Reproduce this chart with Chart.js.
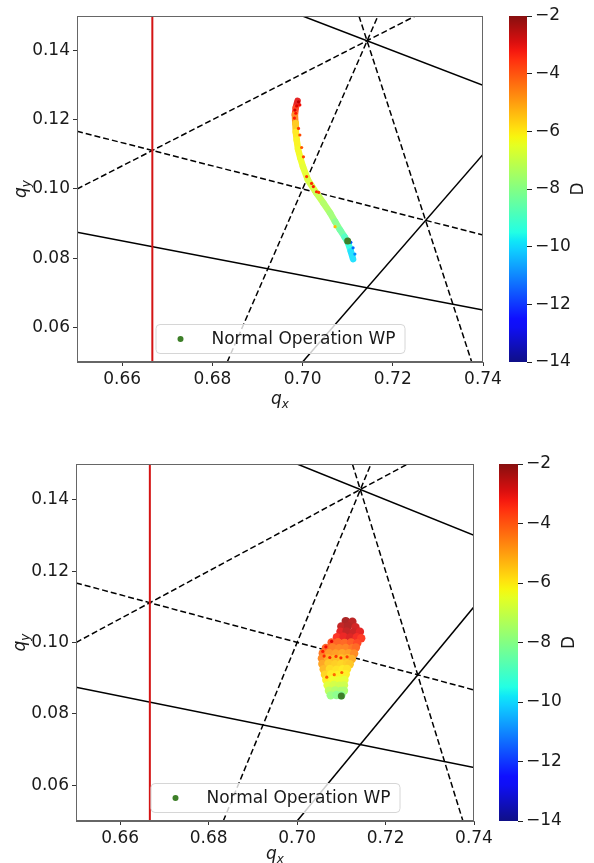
<!DOCTYPE html>
<html>
<head>
<meta charset="utf-8">
<script src="https://cdn.jsdelivr.net/npm/chart.js@4.4.0/dist/chart.umd.min.js"></script>
<style>
  html, body { margin: 0; padding: 0; background: #fff; }
  body { width: 594px; height: 863px; position: relative; overflow: hidden; }
  .box { position: absolute; left: 0; width: 594px; }
</style>
</head>
<body>
<div class="box" style="top:0;height:430px"><canvas id="topPlot"></canvas></div>
<div class="box" style="top:0;height:430px"><canvas id="topBar"></canvas></div>
<div class="box" style="top:440px;height:423px"><canvas id="botPlot"></canvas></div>
<div class="box" style="top:440px;height:423px"><canvas id="botBar"></canvas></div>
<script>
// axis ranges and tick labels
const xRange = [0.65, 0.74];
const yRange = [0.05, 0.15];
const dRange = [-14, -2];
const xTicks = [0.66, 0.68, 0.70, 0.72, 0.74];
const yTicks = [0.06, 0.08, 0.10, 0.12, 0.14];
const dTicks = [-14, -12, -10, -8, -6, -4, -2];

// resonance lines, endpoints [qx, qy]
const dashedLines = [
  [[0.65, 0.1167], [0.74, 0.0867]],
  [[0.65, 0.1000], [0.725, 0.15]],
  [[0.6833, 0.05], [0.7167, 0.15]],
  [[0.7125, 0.15], [0.7375, 0.05]]
];
const solidLines = [
  [[0.70, 0.15], [0.74, 0.13]],
  [[0.65, 0.0875], [0.74, 0.065]],
  [[0.70, 0.05], [0.74, 0.11]]
];
const limitLine = [[0.6667, 0.05], [0.6667, 0.15]];

const workingPoint = [0.710, 0.085];
const legendLabel = 'Normal Operation WP';

// top panel: tune footprint track [qx, qy, D]
const topTrack = [
  [0.6989, 0.1255, -2.8], [0.6985, 0.1235, -3.2], [0.6983, 0.1215, -4.0],
  [0.6984, 0.1190, -5.2], [0.6985, 0.1165, -5.9], [0.6987, 0.1142, -6.1],
  [0.6990, 0.1115, -6.2], [0.6995, 0.1090, -6.3], [0.7001, 0.1064, -6.4],
  [0.7012, 0.1026, -6.6], [0.7031, 0.0988, -6.9], [0.7046, 0.0960, -7.2],
  [0.7061, 0.0931, -7.5], [0.7072, 0.0906, -7.8], [0.7083, 0.0882, -8.2],
  [0.7093, 0.0862, -8.7], [0.7101, 0.0844, -9.2], [0.7107, 0.0820, -9.7],
  [0.7112, 0.0797, -10.1]
];
const topSpecks = [
  [0.6991, 0.1252, -2.6], [0.6987, 0.1240, -3.0], [0.6994, 0.1243, -3.2],
  [0.6983, 0.1228, -2.9], [0.6985, 0.1219, -3.3], [0.6982, 0.1205, -3.4],
  [0.6991, 0.1175, -3.8], [0.6994, 0.1156, -4.0], [0.6998, 0.1120, -4.2],
  [0.7002, 0.1093, -4.0], [0.7009, 0.1036, -3.8], [0.7020, 0.1016, -3.6],
  [0.7024, 0.1007, -3.4], [0.7031, 0.0992, -3.5], [0.7036, 0.0990, -3.8],
  [0.7072, 0.0891, -5.5], [0.7107, 0.0846, -11.5], [0.7112, 0.0830, -11.2],
  [0.7116, 0.0812, -10.8]
];

// bottom panel: tune footprint cloud [qx, qy, D]
const bottomCloud = [
  [0.7110, 0.1060, -2.3], [0.7125, 0.1058, -2.5],
  [0.7100, 0.1045, -2.6], [0.7115, 0.1046, -2.4], [0.7132, 0.1043, -2.8],
  [0.7098, 0.1030, -3.0], [0.7112, 0.1031, -2.6], [0.7127, 0.1029, -2.7], [0.7142, 0.1030, -3.0],
  [0.7090, 0.1015, -3.3], [0.7105, 0.1016, -3.1], [0.7120, 0.1014, -2.9], [0.7135, 0.1015, -3.2], [0.7145, 0.1012, -3.4],
  [0.7078, 0.1000, -3.8], [0.7092, 0.1001, -4.0], [0.7107, 0.0999, -4.1], [0.7122, 0.1000, -3.9], [0.7136, 0.0998, -3.6],
  [0.7065, 0.0985, -4.0], [0.7080, 0.0986, -4.4], [0.7095, 0.0984, -4.5], [0.7110, 0.0985, -4.5], [0.7125, 0.0984, -4.3], [0.7133, 0.0986, -4.1],
  [0.7058, 0.0970, -4.3], [0.7072, 0.0971, -4.8], [0.7087, 0.0969, -4.9], [0.7102, 0.0970, -5.0], [0.7117, 0.0970, -4.9], [0.7129, 0.0969, -4.6],
  [0.7056, 0.0955, -4.6], [0.7070, 0.0956, -5.1], [0.7085, 0.0954, -5.3], [0.7100, 0.0955, -5.4], [0.7114, 0.0956, -5.3], [0.7124, 0.0954, -5.1],
  [0.7057, 0.0940, -5.0], [0.7071, 0.0941, -5.5], [0.7086, 0.0939, -5.6], [0.7100, 0.0940, -5.7], [0.7113, 0.0941, -5.6], [0.7119, 0.0939, -5.5],
  [0.7060, 0.0925, -5.3], [0.7074, 0.0926, -5.8], [0.7089, 0.0924, -5.9], [0.7103, 0.0925, -6.0], [0.7113, 0.0926, -5.9],
  [0.7063, 0.0910, -5.7], [0.7077, 0.0911, -6.0], [0.7091, 0.0909, -6.1], [0.7104, 0.0910, -6.2], [0.7110, 0.0911, -6.1],
  [0.7066, 0.0895, -6.1], [0.7080, 0.0896, -6.3], [0.7094, 0.0894, -6.4], [0.7107, 0.0895, -6.5],
  [0.7069, 0.0880, -6.6], [0.7083, 0.0881, -6.8], [0.7096, 0.0879, -6.9], [0.7106, 0.0880, -6.9],
  [0.7072, 0.0865, -7.2], [0.7086, 0.0866, -7.4], [0.7099, 0.0864, -7.5], [0.7106, 0.0865, -7.5],
  [0.7076, 0.0852, -7.8], [0.7089, 0.0853, -8.0], [0.7100, 0.0852, -8.1]
];
const bottomSpecks = [
  [0.7078, 0.1003, -3.0], [0.7065, 0.0988, -3.2], [0.7058, 0.0975, -3.4],
  [0.7061, 0.0962, -3.6], [0.7074, 0.0958, -3.5], [0.7088, 0.0961, -3.8],
  [0.7099, 0.0957, -3.6], [0.7113, 0.0960, -3.9],
  [0.7067, 0.0903, -4.2], [0.7084, 0.0910, -4.4], [0.7101, 0.0916, -4.3]
];

const FONT = '"DejaVu Sans", Verdana, sans-serif';
Chart.defaults.font.family = FONT;
Chart.defaults.font.size = 17;
Chart.defaults.color = '#1a1a1a';

// matplotlib "jet" colormap
const jetR = [[0, 0], [0.35, 0], [0.66, 1], [0.89, 1], [1, 0.5]];
const jetG = [[0, 0], [0.125, 0], [0.375, 1], [0.64, 1], [0.91, 0], [1, 0]];
const jetB = [[0, 0.5], [0.11, 1], [0.34, 1], [0.65, 0], [1, 0]];
function seg(stops, t) {
  for (let i = 1; i < stops.length; i++) {
    if (t <= stops[i][0]) {
      const [t0, v0] = stops[i - 1], [t1, v1] = stops[i];
      return v0 + (v1 - v0) * (t - t0) / (t1 - t0);
    }
  }
  return stops[stops.length - 1][1];
}
// fade = share of white mixed in (scatter was drawn semi-transparent)
function jet(t, fade) {
  t = Math.max(0, Math.min(1, t));
  const f = fade || 0;
  const c = [seg(jetR, t), seg(jetG, t), seg(jetB, t)].map(v => Math.round((v * (1 - f) + f) * 255));
  return `rgb(${c[0]},${c[1]},${c[2]})`;
}
function dColor(d, fade) {
  return jet((d - dRange[0]) / (dRange[1] - dRange[0]), fade === undefined ? 0.15 : fade);
}

const toXY = arr => arr.map(p => ({ x: p[0], y: p[1] }));

function drawQ(ctx, sub) {
  // italic q with subscript, centred at the origin
  ctx.font = 'italic 17px ' + FONT;
  const w1 = ctx.measureText('q').width;
  ctx.font = 'italic 12px ' + FONT;
  const w2 = ctx.measureText(sub).width;
  const x0 = -(w1 + w2) / 2;
  ctx.textBaseline = 'alphabetic';
  ctx.textAlign = 'left';
  ctx.fillStyle = '#1a1a1a';
  ctx.font = 'italic 17px ' + FONT;
  ctx.fillText('q', x0, 4);
  ctx.font = 'italic 12px ' + FONT;
  ctx.fillText(sub, x0 + w1, 8);
}

function makePlot(id, area, track, cloud, specks) {
  const datasets = [];
  dashedLines.forEach(l => datasets.push({
    data: toXY(l), showLine: true, borderColor: '#000', borderWidth: 1.5,
    borderDash: [6, 3], pointRadius: 0, order: 10
  }));
  solidLines.forEach(l => datasets.push({
    data: toXY(l), showLine: true, borderColor: '#000', borderWidth: 1.5,
    pointRadius: 0, order: 10
  }));
  datasets.push({
    data: toXY(limitLine), showLine: true, borderColor: '#d41414', borderWidth: 2,
    pointRadius: 0, order: 9
  });
  if (track) {
    datasets.push({
      data: toXY(track), showLine: true, borderWidth: 6.5, pointRadius: 0,
      borderCapStyle: 'round', borderJoinStyle: 'round', order: 5,
      segment: {
        borderColor: c => dColor((track[c.p0DataIndex][2] + track[c.p1DataIndex][2]) / 2)
      }
    });
  }
  if (cloud) {
    datasets.push({
      data: toXY(cloud), pointRadius: 4.2, borderWidth: 0,
      backgroundColor: cloud.map(p => dColor(p[2])), order: 4
    });
  }
  if (specks) {
    datasets.push({
      data: toXY(specks), pointRadius: 1.6, borderWidth: 0,
      backgroundColor: specks.map(p => dColor(p[2], 0)), order: 3
    });
  }
  datasets.push({
    data: [{ x: workingPoint[0], y: workingPoint[1] }], pointRadius: 3.5,
    borderWidth: 0, backgroundColor: '#3d7f28', order: 1
  });

  const decor = {
    id: 'decor',
    afterDraw(chart) {
      const ctx = chart.ctx;
      const a = chart.chartArea;
      ctx.save();
      // frame
      ctx.strokeStyle = '#666';
      ctx.lineWidth = 1;
      ctx.strokeRect(a.left + 0.5, a.top + 0.5, a.right - a.left - 1, a.bottom - a.top - 1);
      // legend, lower centre
      const bw = 249, bh = 29;
      const bx = (a.left + a.right) / 2 - bw / 2;
      const by = a.bottom - 9 - bh;
      ctx.beginPath();
      ctx.roundRect(bx + 0.5, by + 0.5, bw, bh, 4);
      ctx.fillStyle = 'rgba(255,255,255,0.8)';
      ctx.fill();
      ctx.strokeStyle = '#d6d6d6';
      ctx.stroke();
      ctx.beginPath();
      ctx.arc(bx + 25, by + bh / 2 + 0.5, 3, 0, Math.PI * 2);
      ctx.fillStyle = '#3d7f28';
      ctx.fill();
      ctx.font = '17px ' + FONT;
      ctx.fillStyle = '#1a1a1a';
      ctx.textBaseline = 'middle';
      ctx.textAlign = 'left';
      ctx.fillText(legendLabel, bx + 56, by + bh / 2 + 1);
      ctx.restore();
      // axis titles
      ctx.save();
      ctx.translate((a.left + a.right) / 2, a.bottom + area.xTitle);
      drawQ(ctx, 'x');
      ctx.restore();
      ctx.save();
      ctx.translate(area.yTitle, (a.top + a.bottom) / 2);
      ctx.rotate(-Math.PI / 2);
      drawQ(ctx, 'y');
      ctx.restore();
    }
  };

  return new Chart(document.getElementById(id), {
    type: 'scatter',
    data: { datasets },
    plugins: [decor],
    options: {
      responsive: true, maintainAspectRatio: false, animation: false,
      events: [],
      layout: { padding: { top: area.top, right: 594 - area.right, left: 0, bottom: 0 } },
      plugins: { legend: { display: false }, tooltip: { enabled: false } },
      scales: {
        x: {
          type: 'linear', min: xRange[0], max: xRange[1],
          afterBuildTicks: s => { s.ticks = xTicks.map(v => ({ value: v })); },
          afterFit: s => { s.height = area.h - area.bottom; },
          ticks: { callback: v => v.toFixed(2), padding: 3, maxRotation: 0, autoSkip: false },
          grid: { drawOnChartArea: false, drawTicks: true, tickLength: 4, color: '#333' },
          border: { color: '#666', width: 1 }
        },
        y: {
          type: 'linear', min: yRange[0], max: yRange[1],
          afterBuildTicks: s => { s.ticks = yTicks.map(v => ({ value: v })); },
          afterFit: s => { s.width = area.left; },
          ticks: { callback: v => v.toFixed(2), padding: 3, autoSkip: false },
          grid: { drawOnChartArea: false, drawTicks: true, tickLength: 4, color: '#333' },
          border: { color: '#666', width: 1 }
        }
      }
    }
  });
}

function makeColorbar(id, bar) {
  const label = {
    id: 'cblabel',
    afterDraw(chart) {
      const ctx = chart.ctx;
      const a = chart.chartArea;
      ctx.save();
      ctx.translate(bar.labelX, (a.top + a.bottom) / 2);
      ctx.rotate(-Math.PI / 2);
      ctx.font = '17px ' + FONT;
      ctx.fillStyle = '#1a1a1a';
      ctx.textAlign = 'center';
      ctx.textBaseline = 'middle';
      ctx.fillText('D', 0, 0);
      ctx.restore();
    }
  };
  return new Chart(document.getElementById(id), {
    type: 'bar',
    data: {
      labels: ['D'],
      datasets: [{
        data: [[dRange[0], dRange[1]]],
        barPercentage: 1, categoryPercentage: 1, borderWidth: 0,
        backgroundColor: c => {
          const a = c.chart.chartArea;
          if (!a) return '#888';
          const g = c.chart.ctx.createLinearGradient(0, a.bottom, 0, a.top);
          for (let i = 0; i <= 40; i++) g.addColorStop(i / 40, jet(i / 40, 0.06));
          return g;
        }
      }]
    },
    plugins: [label],
    options: {
      responsive: true, maintainAspectRatio: false, animation: false,
      events: [],
      layout: { padding: { top: bar.top, left: bar.left, right: 0, bottom: bar.h - bar.bottom } },
      plugins: { legend: { display: false }, tooltip: { enabled: false } },
      scales: {
        x: { display: false },
        y: {
          position: 'right', min: dRange[0], max: dRange[1],
          afterBuildTicks: s => { s.ticks = dTicks.map(v => ({ value: v })); },
          afterFit: s => { s.width = 594 - bar.right; },
          ticks: { callback: v => (v < 0 ? '\u2212' : '') + Math.abs(v), padding: 3, autoSkip: false },
          grid: { drawOnChartArea: false, drawTicks: true, tickLength: 5, color: '#222' },
          border: { display: false }
        }
      }
    }
  });
}

makePlot('topPlot', { left: 77, top: 16, right: 483, bottom: 362, h: 430, xTitle: 38, yTitle: 22 },
  topTrack, null, topSpecks);
makeColorbar('topBar', { left: 509, right: 527, top: 16, bottom: 362, h: 430, labelX: 579 });
makePlot('botPlot', { left: 76, top: 24, right: 474, bottom: 381, h: 423, xTitle: 34, yTitle: 21 },
  null, bottomCloud, bottomSpecks);
makeColorbar('botBar', { left: 499, right: 518, top: 24, bottom: 381, h: 423, labelX: 570 });
</script>
</body>
</html>
